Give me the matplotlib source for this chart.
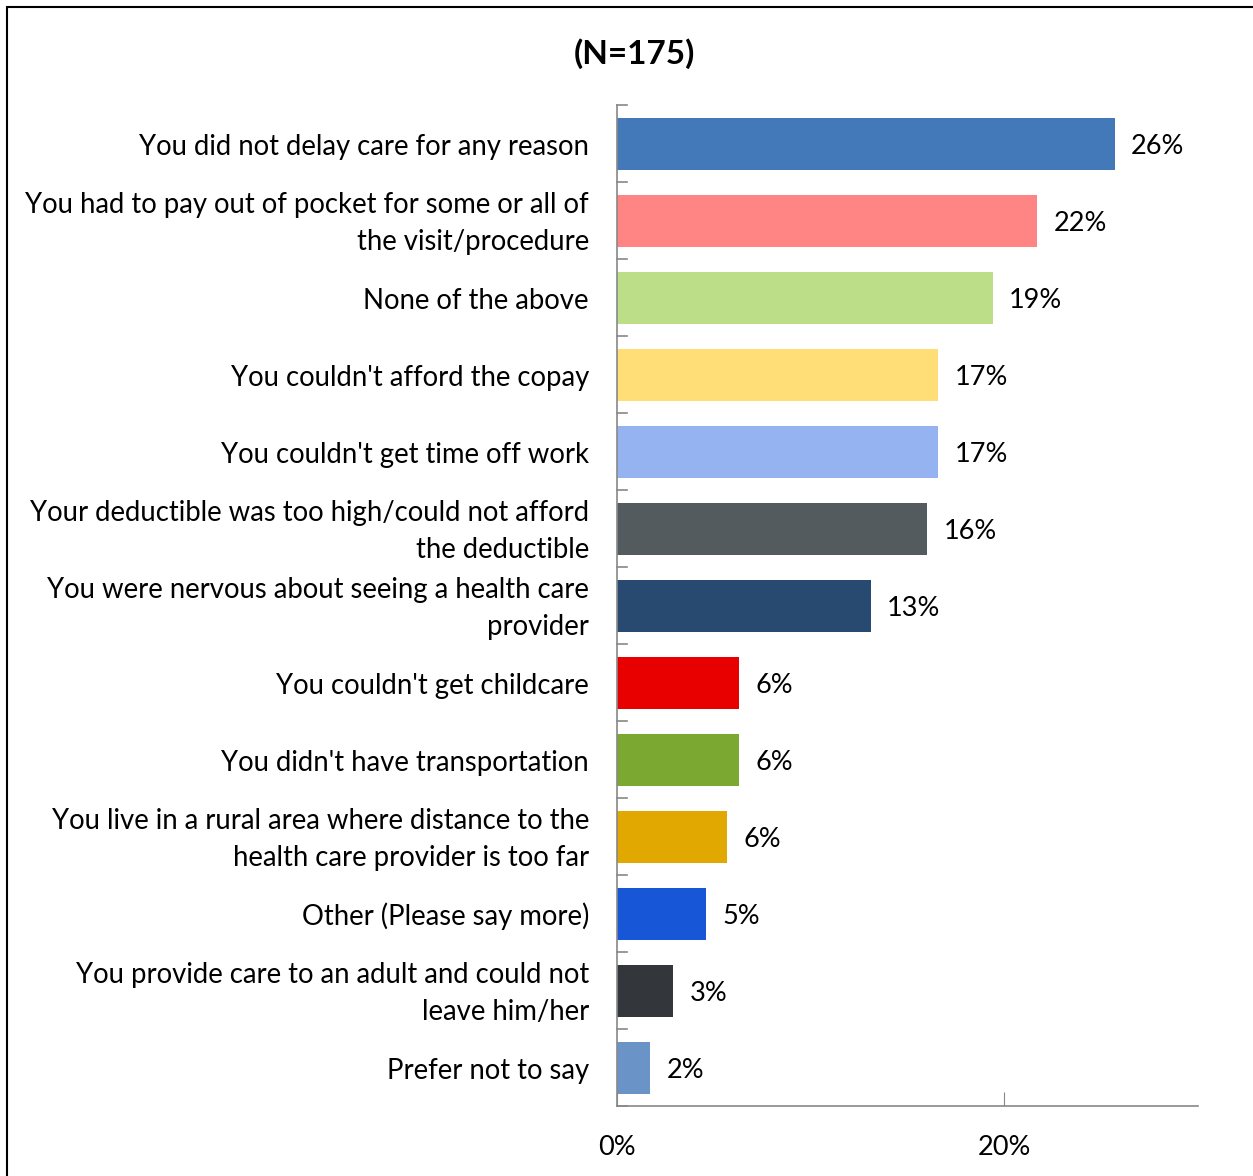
import matplotlib
matplotlib.use('Agg')
import matplotlib.pyplot as plt
from matplotlib.patches import Rectangle

plt.rcParams['font.family'] = ['Lato', 'DejaVu Sans']

# reasons for delaying care, top to bottom
reasons = [
    "You did not delay care for any reason",
    "You had to pay out of pocket for some or all of\nthe visit/procedure",
    "None of the above",
    "You couldn't afford the copay",
    "You couldn't get time off work",
    "Your deductible was too high/could not afford\nthe deductible",
    "You were nervous about seeing a health care\nprovider",
    "You couldn't get childcare",
    "You didn't have transportation",
    "You live in a rural area where distance to the\nhealth care provider is too far",
    "Other (Please say more)",
    "You provide care to an adult and could not\nleave him/her",
    "Prefer not to say",
]
# percent of respondents (bar length)
pct = [25.7, 21.7, 19.4, 16.6, 16.6, 16.0, 13.1, 6.3, 6.3, 5.7, 4.6, 2.9, 1.7]
bar_colors = ['#4479B9', '#FF8484', '#BDDE88', '#FFDD77', '#95B3F0', '#535B5E',
              '#284A70', '#E80000', '#7BA831', '#E0A800', '#1756D6', '#33363A',
              '#6A93C8']

fig = plt.figure(figsize=(12.53, 11.76), dpi=100)
ax = fig.add_axes([0.4924, 0.0595, 0.4637, 0.8512])

y = list(range(len(reasons)))
ax.barh(y, pct, height=0.675, color=bar_colors)
ax.set_ylim(len(reasons) - 0.5, -0.5)
ax.set_xlim(0, 30)

# value labels next to each bar
for yi, v in zip(y, pct):
    ax.text(v + 0.85, yi + 0.04, f"{round(v)}%", va='center', ha='left', fontsize=19.5)

# category labels
ax.set_yticks([])
for yi, r in zip(y, reasons):
    ax.text(-1.45, yi + 0.04, r, ha='right', va='center', fontsize=19.8, linespacing=1.5)

# small tick marks at the category boundaries
for b in [i - 0.5 for i in range(len(reasons) + 1)]:
    ax.plot([0, 0.5], [b, b], color='#888888', lw=1.2, clip_on=False)

ax.set_xticks([0, 20])
ax.set_xticklabels(['0%', '20%'], fontsize=19.5)
ax.tick_params(axis='x', direction='in', length=10, color='#888888', pad=21)

for s in ['top', 'right']:
    ax.spines[s].set_visible(False)
for s in ['left', 'bottom']:
    ax.spines[s].set_color('#888888')
    ax.spines[s].set_linewidth(1.2)

fig.text(0.506, 0.954, "(N=175)", ha='center', va='center', fontsize=24,
         fontweight='bold')

# outer frame of the slide box
fig.add_artist(Rectangle((7 / 1253, -0.1), 1.2, 1 - 7 / 1176 + 0.1,
                         transform=fig.transFigure, fill=False,
                         edgecolor='black', lw=1.5))

fig.savefig('out.png', dpi=100)
